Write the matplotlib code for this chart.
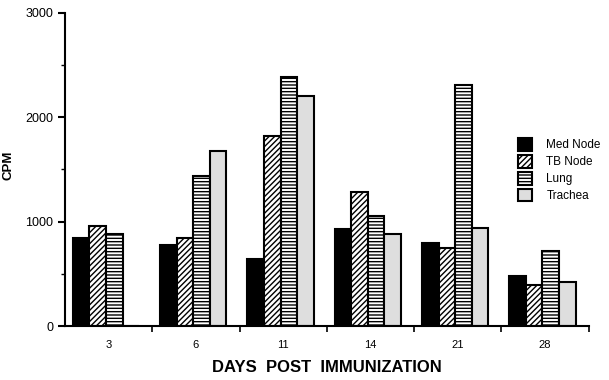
import numpy as np
import matplotlib
matplotlib.use("Agg")
import matplotlib.pyplot as plt

# values
days = ["3", "6", "11", "14", "21", "28"]
med_node = [840, 776, 639, 927, 795, 479]
tb_node = [958, 846, 1821, 1287, 745, 390]
lung = [885, 1440, 2390, 1057, 2313, 722]
trachea = [0, 1677, 2207, 885, 942, 425]

plt.rcParams['font.family'] = ['Liberation Sans', 'DejaVu Sans']
plt.rcParams['hatch.linewidth'] = 1.0

fig = plt.figure(figsize=(6.09, 3.80), dpi=100)
ax = fig.add_axes([0.1067, 0.142, 0.860, 0.824])

x = np.arange(len(days))
w = 0.19
series = [
    ("Med Node", med_node, "black", None),
    ("TB Node", tb_node, "white", "//////"),
    ("Lung", lung, "white", "-----"),
    ("Trachea", trachea, "#dedede", None),
]
for k, (name, vals, fc, hatch) in enumerate(series):
    ax.bar(x + (k - 1.5) * w - 0.03, vals, width=w, color=fc, edgecolor="black",
           linewidth=1.5, hatch=hatch, label=name)

ax.set_xlim(-0.5, 5.5)
ax.set_ylim(0, 3000)
ax.spines['top'].set_visible(False)
ax.spines['right'].set_visible(False)
ax.spines['left'].set_linewidth(1.5)
ax.spines['bottom'].set_linewidth(1.5)

ax.set_yticks([0, 1000, 2000, 3000])
ax.set_yticks([500, 1500, 2500], minor=True)
ax.tick_params(axis='y', which='major', length=5, width=1.5, labelsize=9)
ax.tick_params(axis='y', which='minor', length=3, width=1)

ax.set_xticks(x)
ax.set_xticklabels(days)
ax.set_xticks(np.arange(0.5, 6, 1), minor=True)
ax.tick_params(axis='x', which='major', length=0, pad=10, labelsize=8)
ax.tick_params(axis='x', which='minor', length=4, width=1.2)

ax.set_ylabel("CPM", fontsize=9.5, fontweight='bold')
ax.yaxis.set_label_coords(-0.097, 0.514)
ax.set_xlabel("DAYS  POST  IMMUNIZATION", fontsize=12,
              fontweight='bold', labelpad=7)

ax.legend(loc='upper left', bbox_to_anchor=(0.845, 0.635), frameon=False,
          fontsize=8.5, handlelength=1.2, handleheight=1.3, handletextpad=1.2,
          labelspacing=0.3)

fig.savefig("out.png", dpi=100)
